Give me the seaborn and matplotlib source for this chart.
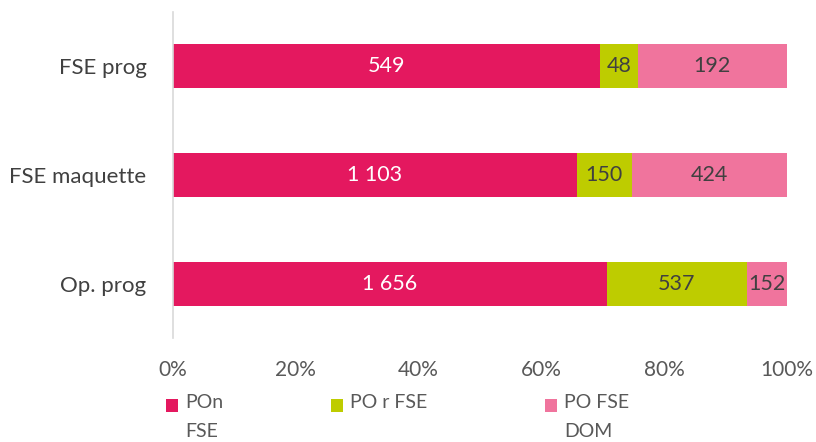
import matplotlib
matplotlib.use("Agg")
import matplotlib.pyplot as plt
import seaborn as sns
import pandas as pd
import numpy as np
from matplotlib.patches import Rectangle

categories = ["FSE prog", "FSE maquette", "Op. prog"]
series_names = ["POn\nFSE", "PO r FSE", "PO FSE\nDOM"]
pon_fse = [549, 1103, 1656]
po_r_fse = [48, 150, 537]
po_fse_dom = [192, 424, 152]
xtick_labels = ["0%", "20%", "40%", "60%", "80%", "100%"]

colors = ["#E4185F", "#BECC00", "#F0749D"]
text_colors = ["white", "#404040", "#404040"]

sns.set_theme(style="white")
plt.rcParams["font.family"] = ["Lato", "DejaVu Sans"]

vals = np.array([pon_fse, po_r_fse, po_fse_dom], dtype=float)
tot = vals.sum(axis=0)
pct = vals / tot * 100
cum = np.cumsum(pct, axis=0)

df = pd.DataFrame({"cat": categories})
for i in range(3):
    df[f"c{i}"] = cum[i]
    df[f"p{i}"] = pct[i]

W, H = 816, 442
fig = plt.figure(figsize=(W/100, H/100), dpi=100)
ax = fig.add_axes([173/W, 1-338/H, (787-173)/W, (338-12)/H])

for i in [2, 1, 0]:
    sns.barplot(data=df, x=f"c{i}", y="cat", orient="h", color=colors[i],
                width=0.405, saturation=1, ax=ax, edgecolor="none", linewidth=0)

for j in range(3):
    for i in range(3):
        center = cum[i, j] - pct[i, j] / 2
        lab = f"{int(vals[i, j]):,}".replace(",", " ")
        ax.text(center, j, lab, ha="center", va="center", fontsize=15.5,
                color=text_colors[i])

ax.set_xlim(0, 100)
ax.set_ylim(2.5, -0.5)
ax.set_xticks([0, 20, 40, 60, 80, 100])
ax.set_xticklabels(xtick_labels)
ax.set_xlabel("")
ax.set_ylabel("")
ax.tick_params(axis="x", length=0, pad=16, labelsize=15, labelcolor="#595959")
ax.tick_params(axis="y", length=0, pad=19, labelsize=16, labelcolor="#404040")
for s in ["top", "right", "bottom"]:
    ax.spines[s].set_visible(False)
ax.spines["left"].set_color("#D9D9D9")
ax.spines["left"].set_linewidth(1.2)

# legend, drawn manually to mimic the wrapped entries
leg_marker_x = [166, 331, 545]
for i in range(3):
    x0 = leg_marker_x[i]
    fig.patches.append(Rectangle((x0/W, 1-412/H), 12/W, 13/H,
                                 transform=fig.transFigure,
                                 facecolor=colors[i], edgecolor="none"))
    fig.text((x0+19)/W, 1-394/H, series_names[i], ha="left", va="top",
             fontsize=14, color="#595959", linespacing=1.85)

fig.savefig("out.png", dpi=100)
